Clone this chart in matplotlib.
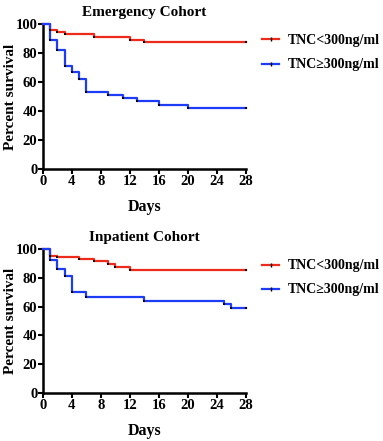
import numpy as np
import matplotlib.pyplot as plt
from matplotlib.lines import Line2D

# Emergency cohort (Kaplan-Meier steps: day of drop, level after drop)
em_low_days = [0, 1, 2, 3, 7, 12, 14, 28]
em_low_surv = [100, 95.6, 94.3, 92.9, 91.0, 89.2, 87.6, 87.6]
em_high_days = [0, 1, 2, 3, 4, 5, 6, 9, 11, 13, 16, 20, 28]
em_high_surv = [100, 88.9, 82.2, 71.1, 66.7, 62.2, 53.3, 51.1, 48.9, 46.7, 44.4, 42.2, 42.2]

# Inpatient cohort
in_low_days = [0, 1, 2, 5, 7, 9, 10, 12, 28]
in_low_surv = [100, 95.5, 94.3, 93.1, 91.6, 89.8, 87.4, 85.7, 85.7]
in_high_days = [0, 1, 2, 3, 4, 6, 14, 25, 26, 28]
in_high_surv = [100, 92.6, 85.9, 81.5, 70.4, 66.7, 64.2, 61.8, 59.3, 59.3]

titles = ['Emergency Cohort', 'Inpatient Cohort']
labels = ['TNC<300ng/ml', 'TNC\u2265300ng/ml']
red = '#EE2A1B'
blue = '#1C3DF5'

plt.rcParams['font.family'] = ['Liberation Serif', 'DejaVu Serif']
plt.rcParams['font.weight'] = 'bold'

fig = plt.figure(figsize=(3.83, 4.41), dpi=100)
ax1 = fig.add_axes([0.112, 0.6168, 0.530, 0.3288])
ax2 = fig.add_axes([0.112, 0.1088, 0.530, 0.3265])

data = [
    [(em_low_days, em_low_surv, red), (em_high_days, em_high_surv, blue)],
    [(in_low_days, in_low_surv, red), (in_high_days, in_high_surv, blue)],
]

for ax, title, curves in zip([ax1, ax2], titles, data):
    for days, surv, col in curves:
        ax.step(days, surv, where='post', color=col, lw=1.6, clip_on=False, zorder=3)
        # small black censor marks at the step corners and at the end
        ax.plot(days[1:], surv[1:], ls='none', marker='s', ms=1.8, mew=0, color='black',
                clip_on=False, zorder=4)
    ax.set_xlim(0, 28)
    ax.set_ylim(0, 100)
    ax.set_xticks(np.arange(0, 29, 4))
    ax.set_yticks(np.arange(0, 101, 20))
    for s in ['top', 'right']:
        ax.spines[s].set_visible(False)
    for s in ['left', 'bottom']:
        ax.spines[s].set_linewidth(1.8)
    ax.tick_params(direction='out', length=3.5, width=1.5, labelsize=10.5, pad=0.5)
    for lab in ax.get_xticklabels() + ax.get_yticklabels():
        lab.set_fontweight('bold')
    ax.set_xlabel('Days', fontsize=11.5, fontweight='bold', labelpad=8)
    ax.set_ylabel('Percent survival', fontsize=11, fontweight='bold')
    ax.yaxis.set_label_coords(-0.128, 0.5)
    ax.set_title(title, fontsize=11, fontweight='bold', pad=6)

    handles = [Line2D([], [], color=red, lw=1.6, marker='|', ms=3, mec='black'),
               Line2D([], [], color=blue, lw=1.6, marker='|', ms=3, mec='black')]
    ax.legend(handles, labels, loc='upper left', bbox_to_anchor=(1.02, 1.015),
              frameon=False, handlelength=1.2, handletextpad=0.6, labelspacing=0.8,
              prop={'family': 'Liberation Serif', 'weight': 'bold', 'size': 10})

fig.savefig('out.png', dpi=100)
